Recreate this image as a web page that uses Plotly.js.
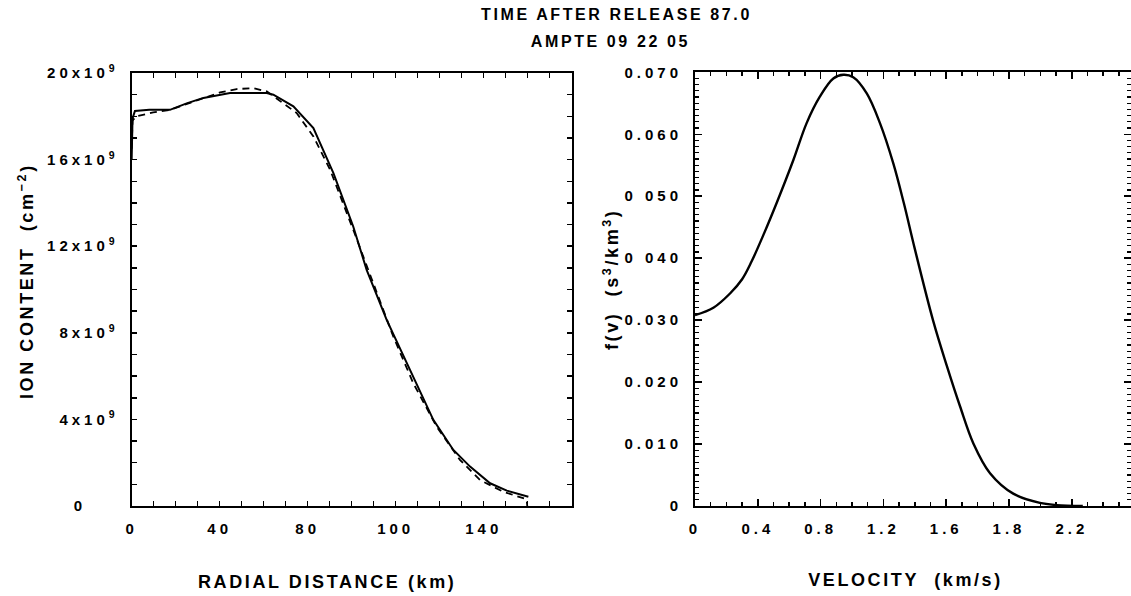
<!DOCTYPE html>
<html>
<head>
<meta charset="utf-8">
<script src="https://cdn.plot.ly/plotly-3.0.1.min.js"></script>
<style>
html,body{margin:0;padding:0;background:#fff;}
#chart{width:1131px;height:596px;}
#chart .xtick text, #chart .ytick text, #chart .x2tick text, #chart .y2tick text { letter-spacing: 4px; }
#chart .annotation-text { letter-spacing: 2.6px; }
</style>
</head>
<body>
<div id="chart"></div>
<script>
// ---- Left panel: ion content vs radial distance ----
const radialSolid = [0, 0.4, 1.5, 8, 17.4, 25, 32.6, 44.7, 61.4, 64.4, 73.5, 82.6, 91.7, 100.7, 106.8, 115.9, 126.5, 137.1, 146.2, 153.8, 162.9, 170.5, 180.3];
const ionSolid = [16.0e9, 17.9e9, 18.25e9, 18.3e9, 18.3e9, 18.6e9, 18.85e9, 19.08e9, 19.08e9, 19.0e9, 18.46e9, 17.46e9, 15.38e9, 12.91e9, 10.91e9, 8.6e9, 6.29e9, 3.98e9, 2.59e9, 1.82e9, 1.05e9, 0.71e9, 0.43e9];

const radialDash = [0, 0.4, 2, 9.8, 17.4, 32.6, 40.2, 47.7, 55.3, 61.4, 67.4, 75, 82.6, 90.2, 100.7, 109.8, 118.9, 128, 138.6, 149.2, 158.3, 168.9, 179.5, 179.8];
const ionDash = [16.5e9, 17.8e9, 18.0e9, 18.18e9, 18.3e9, 18.85e9, 19.1e9, 19.26e9, 19.3e9, 19.15e9, 18.7e9, 18.15e9, 17.07e9, 15.53e9, 12.76e9, 10.29e9, 7.83e9, 5.67e9, 3.67e9, 2.13e9, 1.2e9, 0.66e9, 0.31e9, 0];

const radialTickVals = [0, 40, 80, 120, 160];
const radialTickText = ['0', '40', '80', '100', '140'];
const ionTickVals = [0, 4e9, 8e9, 12e9, 16e9, 20e9];
const ionTickText = ['0\u00a0\u00a0\u00a0\u00a0', '4x10<sup>9</sup>', '8x10<sup>9</sup>', '12x10<sup>9</sup>', '16x10<sup>9</sup>', '20x10<sup>9</sup>'];

// ---- Right panel: distribution function vs velocity ----
const velocity = [0, 0.117, 0.223, 0.30, 0.361, 0.44, 0.52, 0.626, 0.711, 0.796, 0.881, 0.945, 1.008, 1.094, 1.178, 1.263, 1.33, 1.40, 1.518, 1.603, 1.688, 1.773, 1.879, 2.027, 2.197, 2.304, 2.47];
const fv = [0.0308, 0.0320, 0.0343, 0.0366, 0.0395, 0.0440, 0.0489, 0.0558, 0.0618, 0.0661, 0.069, 0.0696, 0.0692, 0.0666, 0.0618, 0.0553, 0.0489, 0.0415, 0.0298, 0.0227, 0.0161, 0.0101, 0.0053, 0.002, 0.0005, 0.00015, 0.0];

const velTickVals = [0, 0.4, 0.8, 1.2, 1.6, 2.0, 2.4];
const velTickText = ['0', '0.4', '0.8', '1.2', '1.6', '1.8', '2.2'];
const fvTickVals = [0, 0.01, 0.02, 0.03, 0.04, 0.05, 0.06, 0.07];
const fvTickText = ['0', '0.010', '0.020', '0.030', '0 040', '0 050', '0.060', '0.070'];

const FONT = 'Liberation Sans, Arial, Helvetica, sans-serif';
const tickFont = {family: FONT, size: 15, color: '#000', weight: 'bold'};

function axisBase(extra) {
  return Object.assign({
    showline: true, linecolor: '#000', linewidth: 2, mirror: 'ticks',
    ticks: 'inside', ticklen: 5, tickwidth: 1.5, tickcolor: '#000',
    showgrid: false, zeroline: false, tickfont: tickFont,
    tickmode: 'array', ticklabelstandoff: 8, fixedrange: true
  }, extra);
}

const traces = [
  {x: radialSolid, y: ionSolid, xaxis: 'x', yaxis: 'y', mode: 'lines',
   line: {color: '#000', width: 2}},
  {x: radialDash, y: ionDash, xaxis: 'x', yaxis: 'y', mode: 'lines',
   line: {color: '#000', width: 1.8, dash: '7px,5px'}},
  {x: velocity, y: fv, xaxis: 'x2', yaxis: 'y2', mode: 'lines',
   line: {color: '#000', width: 2.4, shape: 'spline', smoothing: 1}}
];

const titleFont = {family: FONT, size: 16, color: '#000', weight: 'bold'};
const axTitleFont = {family: FONT, size: 18, color: '#000', weight: 'bold'};

const layout = {
  width: 1131, height: 596,
  margin: {l: 0, r: 0, t: 0, b: 0},
  paper_bgcolor: '#fff', plot_bgcolor: '#fff',
  showlegend: false,
  xaxis: axisBase({domain: [0.1164, 0.5055], range: [0, 200], anchor: 'y',
    tickvals: radialTickVals, ticktext: radialTickText,
    minor: {dtick: 10, ticks: 'inside', ticklen: 5, tickwidth: 1.5, tickcolor: '#000'}}),
  yaxis: axisBase({domain: [0.151, 0.8775], range: [0, 20e9], anchor: 'x',
    tickvals: ionTickVals, ticktext: ionTickText, ticklabelstandoff: 8,
    minor: {dtick: 1e9, ticks: 'inside', ticklen: 5, tickwidth: 1.5, tickcolor: '#000'}}),
  xaxis2: axisBase({domain: [0.6145, 1.0], range: [0, 2.777], anchor: 'y2',
    tickvals: velTickVals, ticktext: velTickText, ticklen: 7,
    minor: {dtick: 0.1, ticks: 'inside', ticklen: 4, tickwidth: 1.5, tickcolor: '#000'}}),
  yaxis2: axisBase({domain: [0.151, 0.8787], range: [0, 0.07], anchor: 'x2',
    tickvals: fvTickVals, ticktext: fvTickText, ticklen: 7, ticklabelstandoff: 8,
    minor: {dtick: 0.001, ticks: 'inside', ticklen: 4, tickwidth: 1.2, tickcolor: '#000'}}),
  annotations: [
    {text: 'TIME AFTER RELEASE 87.0', xref: 'paper', yref: 'paper', x: 0.5447, y: 0.976,
     xanchor: 'center', yanchor: 'middle', showarrow: false, font: titleFont},
    {text: 'AMPTE 09 22 05', xref: 'paper', yref: 'paper', x: 0.540, y: 0.931,
     xanchor: 'center', yanchor: 'middle', showarrow: false, font: titleFont},
    {text: 'RADIAL DISTANCE (km)', xref: 'paper', yref: 'paper', x: 0.289, y: 0.024,
     xanchor: 'center', yanchor: 'middle', showarrow: false, font: axTitleFont},
    {text: 'VELOCITY\u00a0 (km/s)', xref: 'paper', yref: 'paper', x: 0.801, y: 0.027,
     xanchor: 'center', yanchor: 'middle', showarrow: false, font: axTitleFont},
    {text: 'ION CONTENT\u00a0 (cm<sup>\u22122</sup>)', xref: 'paper', yref: 'paper', x: 0.023, y: 0.528,
     xanchor: 'center', yanchor: 'middle', showarrow: false, textangle: -90, font: axTitleFont},
    {text: 'f(v)\u00a0 (s<sup>3</sup>/km<sup>3</sup>)', xref: 'paper', yref: 'paper', x: 0.541, y: 0.532,
     xanchor: 'center', yanchor: 'middle', showarrow: false, textangle: -90, font: axTitleFont}
  ]
};

Plotly.newPlot('chart', traces, layout, {staticPlot: true, displayModeBar: false});
</script>
</body>
</html>
